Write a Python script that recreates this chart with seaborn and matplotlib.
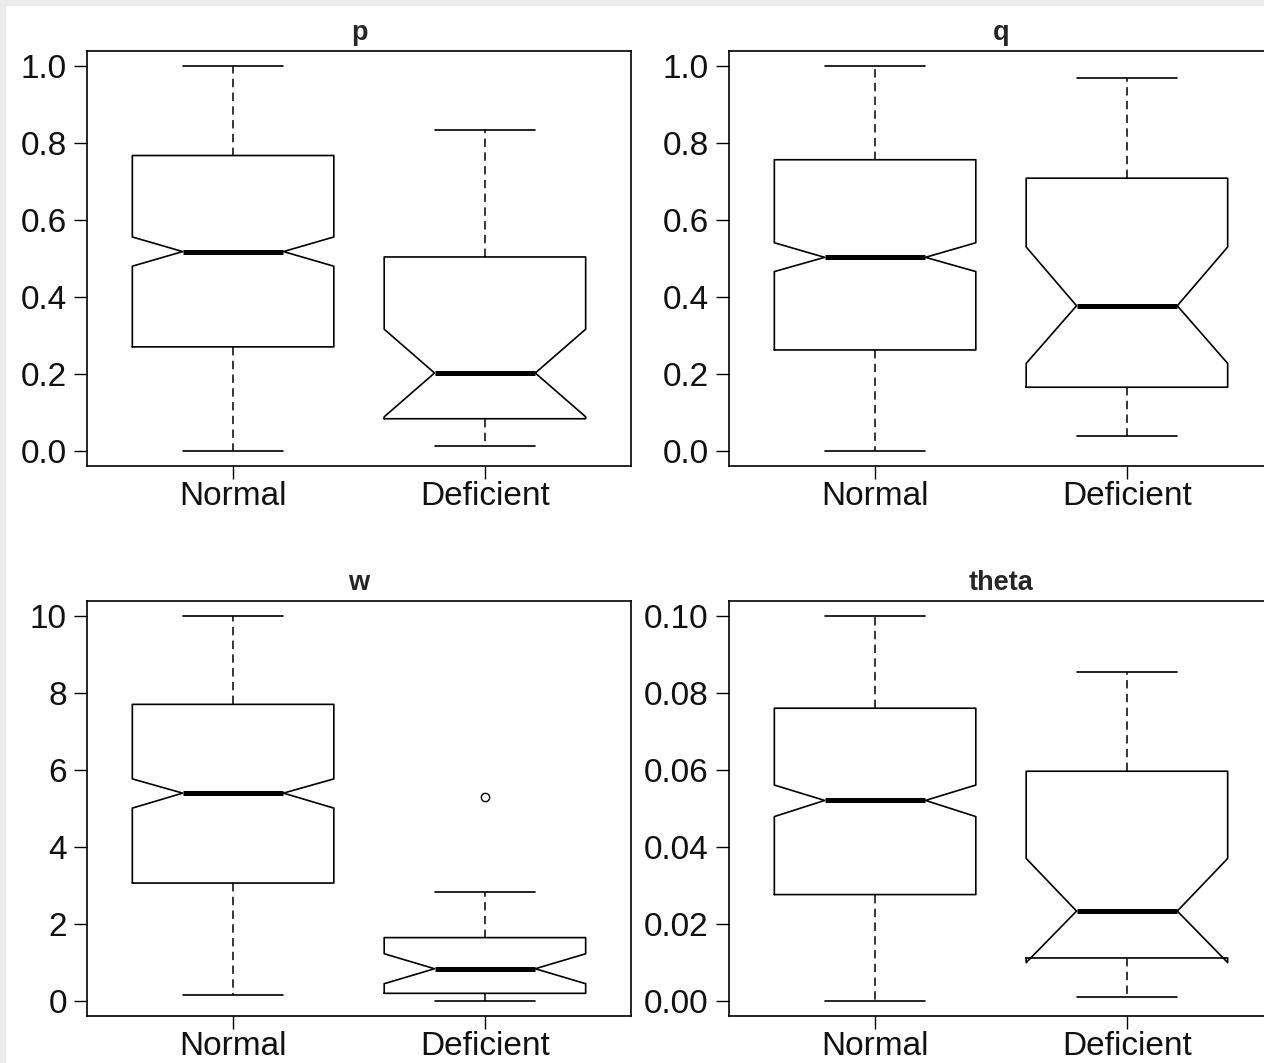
import matplotlib
matplotlib.use("Agg")
import matplotlib.pyplot as plt
import seaborn as sns

sns.set_style("ticks")
plt.rcParams['font.family'] = ['Liberation Sans', 'DejaVu Sans']

groups = ["Normal", "Deficient"]

# five-number summaries + notch limits
p_med = [0.518, 0.202]
p_q1 = [0.270, 0.083]
p_q3 = [0.768, 0.504]
p_lo = [0.0, 0.013]
p_hi = [1.0, 0.835]
p_cilo = [0.480, 0.088]
p_cihi = [0.556, 0.316]

q_med = [0.503, 0.377]
q_q1 = [0.262, 0.165]
q_q3 = [0.757, 0.709]
q_lo = [0.0, 0.038]
q_hi = [1.0, 0.970]
q_cilo = [0.466, 0.227]
q_cihi = [0.541, 0.530]

w_med = [5.40, 0.83]
w_q1 = [3.06, 0.19]
w_q3 = [7.71, 1.64]
w_lo = [0.15, 0.0]
w_hi = [10.0, 2.82]
w_cilo = [5.01, 0.44]
w_cihi = [5.77, 1.22]
w_out = [[], [5.29]]

t_med = [0.0521, 0.0233]
t_q1 = [0.0276, 0.0111]
t_q3 = [0.0761, 0.0597]
t_lo = [0.0, 0.0009]
t_hi = [0.100, 0.0854]
t_cilo = [0.0479, 0.0099]
t_cihi = [0.0561, 0.0370]

p_ticks = [0.0, 0.2, 0.4, 0.6, 0.8, 1.0]
p_labels = ["0.0", "0.2", "0.4", "0.6", "0.8", "1.0"]
w_ticks = [0, 2, 4, 6, 8, 10]
w_labels = ["0", "2", "4", "6", "8", "10"]
t_ticks = [0.0, 0.02, 0.04, 0.06, 0.08, 0.10]
t_labels = ["0.00", "0.02", "0.04", "0.06", "0.08", "0.10"]


def make_stats(med, q1, q3, lo, hi, cilo, cihi, out=None):
    stats = []
    for i, g in enumerate(groups):
        stats.append(dict(label=g, med=med[i], q1=q1[i], q3=q3[i],
                          whislo=lo[i], whishi=hi[i], cilo=cilo[i], cihi=cihi[i],
                          fliers=(out[i] if out else [])))
    return stats


panels = [
    ("p", make_stats(p_med, p_q1, p_q3, p_lo, p_hi, p_cilo, p_cihi), (-0.04, 1.04), p_ticks, p_labels),
    ("q", make_stats(q_med, q_q1, q_q3, q_lo, q_hi, q_cilo, q_cihi), (-0.04, 1.04), p_ticks, p_labels),
    ("w", make_stats(w_med, w_q1, w_q3, w_lo, w_hi, w_cilo, w_cihi, w_out), (-0.4, 10.4), w_ticks, w_labels),
    ("theta", make_stats(t_med, t_q1, t_q3, t_lo, t_hi, t_cilo, t_cihi), (-0.004, 0.104), t_ticks, t_labels),
]

W, H = 1264, 1063
fig = plt.figure(figsize=(W / 100, H / 100), dpi=100, facecolor="#ebebeb")
fig.patches.append(plt.Rectangle((6 / W, 0), 1, 1 - 6 / H, transform=fig.transFigure,
                                 facecolor="white", edgecolor="none", zorder=-10))

boxes = [(87, 51), (729, 51), (87, 601), (729, 601)]
aw, ah = 544, 415

for (name, stats, ylim, ticks, labels), (x0, y0) in zip(panels, boxes):
    ax = fig.add_axes([x0 / W, (H - y0 - ah) / H, aw / W, ah / H])
    ax.set_facecolor("white")
    ax.bxp(stats, positions=[1, 2], widths=0.8, shownotches=True, manage_ticks=False,
           boxprops=dict(color="black", linewidth=1.2),
           medianprops=dict(color="black", linewidth=3.6, solid_capstyle="butt"),
           whiskerprops=dict(color="black", linewidth=1.1, linestyle=(0, (5.5, 3.5))),
           capprops=dict(color="black", linewidth=1.2),
           flierprops=dict(marker="o", markersize=6, markerfacecolor="none",
                           markeredgecolor="black", markeredgewidth=1.0))
    ax.set_xlim(0.42, 2.58)
    ax.set_ylim(*ylim)
    ax.set_xticks([1, 2])
    ax.set_xticklabels(groups)
    ax.set_yticks(ticks)
    ax.set_yticklabels(labels)
    ax.tick_params(axis="both", labelsize=24, length=9.5, width=1.0, color="black",
                   labelcolor="#111111")
    ax.tick_params(axis="x", pad=1)
    ax.tick_params(axis="y", pad=5)
    for s in ax.spines.values():
        s.set_visible(True)
        s.set_color("black")
        s.set_linewidth(1.2)
    ax.set_title(name, fontsize=19.5, fontweight="bold", pad=8)

fig.savefig("out.png", dpi=100, facecolor=fig.get_facecolor())
